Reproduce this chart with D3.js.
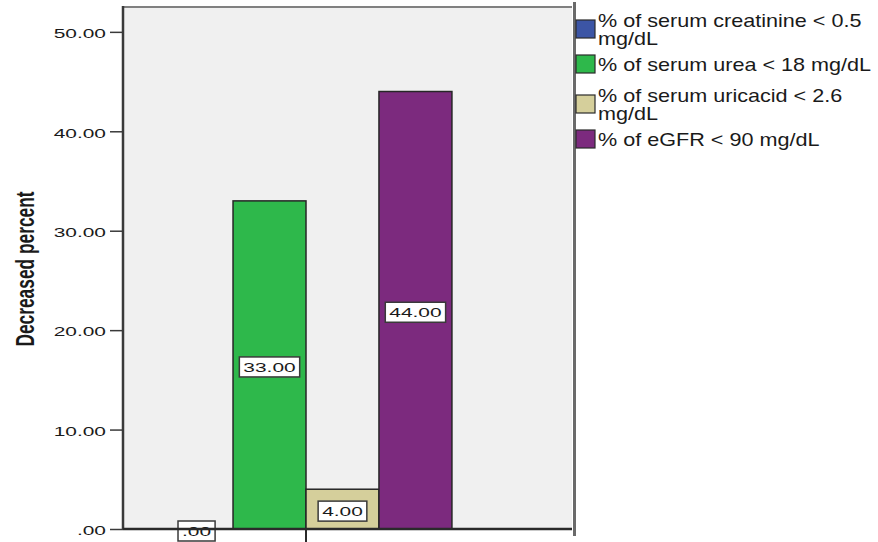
<!DOCTYPE html>
<html>
<head>
<meta charset="utf-8">
<script src="https://cdn.jsdelivr.net/npm/d3@7"></script>
<style>
  html, body { margin: 0; padding: 0; background: #ffffff; }
  svg { display: block; }
  text { font-family: "Liberation Sans", Arial, sans-serif; fill: #1a1a1a; }
</style>
</head>
<body>
<svg id="chart" width="878" height="542"></svg>
<script>
// Data
const category = ["Decreased"];
const seriesNames = [
  "% of serum creatinine < 0.5 mg/dL",
  "% of serum urea < 18 mg/dL",
  "% of serum uricacid < 2.6 mg/dL",
  "% of eGFR < 90 mg/dL"
];
const legendLines = [
  ["% of serum creatinine < 0.5", "mg/dL"],
  ["% of serum urea < 18 mg/dL"],
  ["% of serum uricacid < 2.6", "mg/dL"],
  ["% of eGFR < 90 mg/dL"]
];
const seriesValues = [0, 33, 4, 44];
const seriesColors = ["#3C55A5", "#2EB84B", "#D5CF9B", "#7C2A7E"];
const yTicks = [0, 10, 20, 30, 40, 50];
const yTitle = "Decreased percent";

// Layout
const svg = d3.select("#chart");
const plot = { left: 123, right: 572, top: 7, bottom: 529 };
const yMax = 52.5;
const catCenter = 306;

const y = d3.scaleLinear().domain([0, yMax]).range([plot.bottom, plot.top]);
const x0 = d3.scaleBand().domain(category)
  .range([plot.left, 2 * catCenter - plot.left])
  .paddingOuter(0.127).paddingInner(0);
const x1 = d3.scaleBand().domain(seriesNames).range([0, x0.bandwidth()]).padding(0);

const fmt = d => d === 0 ? ".00" : d3.format(".2f")(d);
const numScale = 1.55;

// Plot background and frame
svg.append("rect")
  .attr("x", plot.left).attr("y", plot.top)
  .attr("width", plot.right - plot.left).attr("height", plot.bottom - plot.top)
  .attr("fill", "#f0f0f0");
svg.append("line")
  .attr("x1", plot.left).attr("x2", plot.right)
  .attr("y1", plot.top).attr("y2", plot.top)
  .attr("stroke", "#808080").attr("stroke-width", 2);
svg.append("line")
  .attr("x1", plot.right + 2.5).attr("x2", plot.right + 2.5)
  .attr("y1", 2).attr("y2", 536)
  .attr("stroke", "#6a6a6a").attr("stroke-width", 3);

// Bars
const g = svg.append("g").attr("transform", `translate(${x0(category[0])},0)`);
g.selectAll("rect.bar")
  .data(seriesNames.map((s, i) => ({ s, v: seriesValues[i], c: seriesColors[i] })))
  .join("rect")
  .attr("class", "bar")
  .attr("x", d => x1(d.s))
  .attr("y", d => y(d.v))
  .attr("width", x1.bandwidth())
  .attr("height", d => y(0) - y(d.v))
  .attr("fill", d => d.c)
  .attr("stroke", "#262626")
  .attr("stroke-width", 1.5);

// Value labels, centred at half the bar height
const labels = g.selectAll("g.lbl")
  .data(seriesNames.map((s, i) => ({ s, v: seriesValues[i] })))
  .join("g")
  .attr("class", "lbl")
  .attr("transform", d => `translate(${x1(d.s) + x1.bandwidth() / 2},${y(d.v / 2) + 2})`);
labels.each(function (d) {
  const lg = d3.select(this);
  const box = lg.append("rect");
  const txt = lg.append("text")
    .attr("text-anchor", "middle")
    .attr("dy", "0.38em")
    .attr("transform", `scale(${numScale},1)`)
    .style("font-size", "13.5px")
    .text(fmt(d.v));
  const w = txt.node().getComputedTextLength() * numScale + 8;
  box.attr("x", -w / 2).attr("y", -10).attr("width", w).attr("height", 20)
    .attr("fill", "#ffffff").attr("stroke", "#3a3a3a").attr("stroke-width", 1.5);
});

// Y axis
const yAxis = svg.append("g")
  .attr("transform", `translate(${plot.left},0)`)
  .call(d3.axisLeft(y).tickValues(yTicks).tickFormat(fmt).tickSize(13).tickPadding(3));
yAxis.select(".domain")
  .attr("d", `M0,${plot.top - 1}V${plot.bottom}`)
  .attr("stroke", "#3a3a3a").attr("stroke-width", 2.5);
yAxis.selectAll(".tick line").attr("stroke", "#3a3a3a").attr("stroke-width", 1.5);
yAxis.selectAll(".tick text")
  .style("font-size", "13.5px")
  .attr("fill", "#1a1a1a")
  .each(function () {
    const t = d3.select(this);
    const xx = +t.attr("x");
    t.attr("x", 0).attr("transform", `translate(${xx - 1},1.5) scale(${numScale},1)`);
  });

// X axis (single category), drawn over the labels
const xAxis = svg.append("g")
  .attr("transform", `translate(0,${plot.bottom})`)
  .call(d3.axisBottom(x0).tickSize(14).tickFormat(""));
xAxis.select(".domain")
  .attr("d", `M${plot.left},0H${plot.right}`)
  .attr("stroke", "#2a2a2a").attr("stroke-width", 2.5);
xAxis.selectAll(".tick line").attr("stroke", "#2a2a2a").attr("stroke-width", 2);

// Y axis title
svg.append("text")
  .attr("transform", "translate(34,269) rotate(-90) scale(0.68,1)")
  .attr("text-anchor", "middle")
  .style("font-size", "25.5px")
  .style("font-weight", "bold")
  .attr("fill", "#111")
  .text(yTitle);

// Legend
const legendTop = [13, 57, 88, 132];
const legend = svg.append("g");
legendLines.forEach((lines, i) => {
  const top = legendTop[i];
  const h = lines.length * 18;
  legend.append("rect")
    .attr("x", 576).attr("y", top + h / 2 - 11)
    .attr("width", 19).attr("height", 18)
    .attr("fill", seriesColors[i])
    .attr("stroke", "#2a2a2a").attr("stroke-width", 1.2);
  lines.forEach((ln, j) => {
    legend.append("text")
      .attr("transform", `translate(598,${top + 14 + j * 18}) scale(1.2,1)`)
      .style("font-size", "18px")
      .text(ln);
  });
});
</script>
</body>
</html>
